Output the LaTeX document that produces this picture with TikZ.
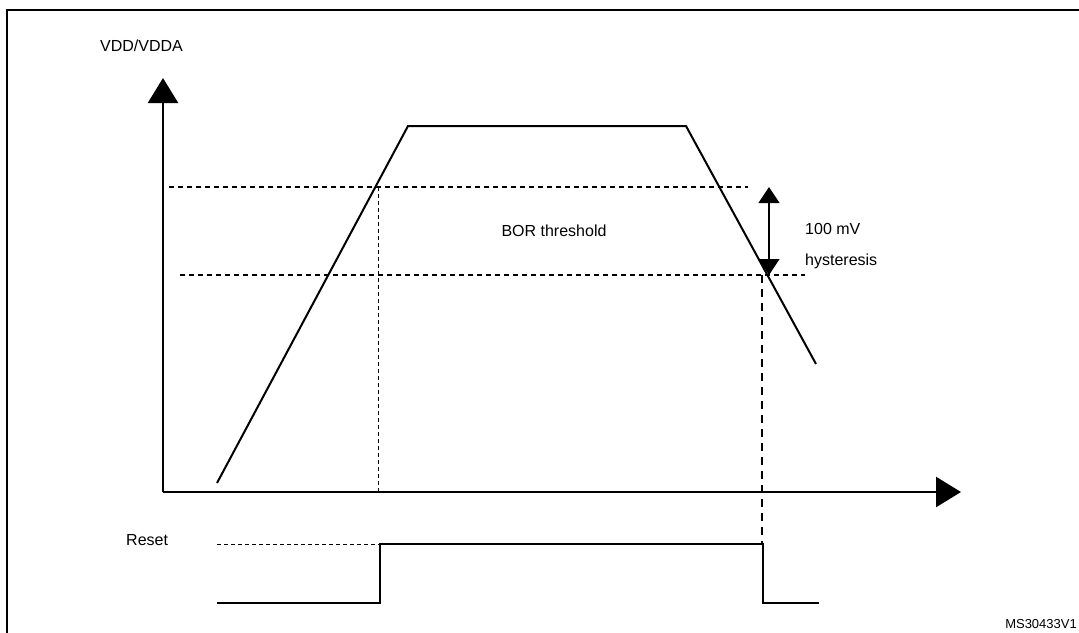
\documentclass[tikz,border=0pt]{standalone}
\usepackage{fontspec}
\setmainfont{Liberation Sans}
\usetikzlibrary{arrows.meta}
\begin{document}
\begin{tikzpicture}[x=1pt,y=-1pt,
  txt/.style={font=\fontsize{16}{18}\selectfont,inner sep=0pt},
  dsh/.style={line width=1.2pt,dash pattern=on 5pt off 4pt},
  tdsh/.style={line width=0.8pt,dash pattern=on 4pt off 3pt},
  sig/.style={line width=2pt},
  big/.style={-{Triangle[length=25pt,width=30pt]},line width=2.5pt}]
\useasboundingbox (0,0) rectangle (1079,632);
\draw[line width=2pt] (7,640) -- (7,10) -- (1085,10);
\coordinate (o) at (163,492);
\coordinate (yt) at (163,78);
\coordinate (xt) at (961,492);
\draw[big] (o) -- (yt);
\draw[big] (o) -- (xt);
\coordinate (c1) at (217,483); \coordinate (c2) at (408,126);
\coordinate (c3) at (686,126); \coordinate (c4) at (816,364);
\draw[sig] (c1) -- (c2) -- (c3) -- (c4);
\coordinate (u1) at (169,187); \coordinate (u2) at (748,187);
\coordinate (l1) at (180,275); \coordinate (l2) at (805,275);
\draw[dsh] (u1) -- (u2);
\draw[dsh] (l1) -- (l2);
\coordinate (v1) at (378,187); \coordinate (v1b) at (378,492);
\coordinate (v2) at (762,275); \coordinate (v2b) at (762,544);
\draw[tdsh] (v1) -- (v1b);
\draw[dsh,dash pattern=on 8pt off 6pt] (v2) -- (v2b);
\coordinate (h1) at (769,187); \coordinate (h2) at (769,275);
\draw[line width=1.2pt,{Triangle[length=16pt,width=21pt]}-{Triangle[length=16pt,width=21pt]}] (h1) -- (h2);
\node[txt] (bor) at (554,231) {BOR threshold};
\node[txt,anchor=west] (mv) at (805,229) {100 mV};
\node[txt,anchor=west] (hy) at (805,261) {hysteresis};
\node[txt,anchor=west] (vdd) at (100,46) {VDD/VDDA};
\node[txt,anchor=west] (rst) at (126,540) {Reset};
\node[font=\fontsize{13}{15}\selectfont,inner sep=0pt,anchor=east] (ms) at (1077,624) {MS30433V1};
\coordinate (r0) at (217,544); \coordinate (r1) at (380,544);
\draw[tdsh] (r0) -- (r1);
\draw[sig] (217,603) -- (380,603) -- (r1) -- (763,544) -- (763,603) -- (819,603);
\end{tikzpicture}
\end{document}
